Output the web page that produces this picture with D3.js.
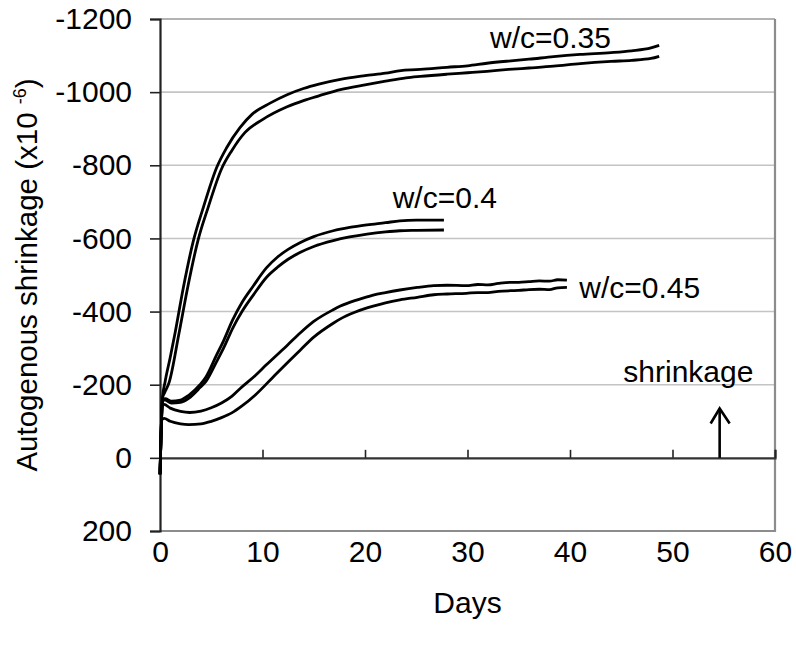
<!DOCTYPE html>
<html><head><meta charset="utf-8">
<script src="https://cdn.jsdelivr.net/npm/d3@7"></script>
<style>
body{margin:0;background:#fff;}
text{font-family:"Liberation Sans",Arial,sans-serif;fill:#000;}
</style></head>
<body><svg id="c" width="796" height="645"></svg>
<script>
// ---- data (days, strain x10^-6; negative = shrinkage) ----
const xTicks = [0,10,20,30,40,50,60];
const yTicks = [-1200,-1000,-800,-600,-400,-200,0,200];
const yTickLabels = ["-1200","-1000","-800","-600","-400","-200","0","200"];

const wc035a = [[0,45],[0.1,-60],[0.25,-165],[0.49,-207],[1.0,-275],[1.46,-340],[2.28,-466],[3.26,-594],[4.23,-685],[5.53,-794],[6.5,-848],[7.8,-903],[9.0,-940],[10.74,-970],[12.4,-993],[14,-1010],[15.5,-1022],[17.6,-1035],[20,-1045],[22,-1052],[23.5,-1059],[24.5,-1061],[25.4,-1062],[28,-1068],[30,-1072],[31.9,-1079],[34,-1085],[36,-1090],[38.4,-1097],[41,-1103],[44,-1108],[46,-1113],[47.9,-1121],[48.7,-1128]];
const wc035b = [[0,45],[0.1,-60],[0.25,-165],[0.45,-178],[0.9,-207],[1.85,-340],[2.7,-466],[3.7,-594],[4.7,-685],[6.0,-790],[7.0,-840],[8.3,-890],[10,-925],[12.4,-960],[14,-977],[15.5,-990],[17.6,-1007],[20,-1020],[22,-1030],[24,-1039],[25.4,-1043],[28,-1049],[30,-1053],[31.9,-1057],[34,-1062],[36,-1066],[38.4,-1071],[41,-1078],[44,-1084],[46,-1087],[47.9,-1092],[48.7,-1098]];
const wc040a = [[0,45],[0.1,-60],[0.25,-160],[0.5,-162],[1.1,-155],[2,-158],[2.8,-171],[3.9,-200],[4.5,-222],[5.5,-280],[6.2,-320],[7.1,-378],[8.0,-425],[9.1,-470],[10.4,-520],[11.5,-550],[12.5,-570],[13.7,-589],[15,-605],[16.9,-621],[18.5,-630],[20.2,-637],[22,-643],[23.4,-648],[25,-650],[27.7,-650]];
const wc040b = [[0,45],[0.1,-60],[0.25,-158],[0.5,-158],[1.1,-150],[2,-152],[2.8,-163],[3.9,-192],[4.5,-210],[5.5,-262],[6.2,-300],[7.1,-355],[8.0,-400],[9.1,-445],[10.4,-494],[11.5,-522],[12.5,-543],[13.7,-562],[15,-578],[16.9,-594],[18.5,-604],[20.2,-612],[22,-618],[23.4,-621],[25,-622],[27.7,-623]];
const wc045a = [[0,45],[0.1,-60],[0.2,-140],[0.4,-146],[1,-136],[2,-127],[2.9,-124],[4,-128],[5,-137],[6,-150],[7,-168],[7.8,-189],[9.3,-225],[10.4,-255],[12.5,-310],[13.7,-342],[15,-373],[16.9,-405],[17.6,-415],[19,-430],[20.2,-440],[20.8,-445],[22,-452],[23.4,-459],[25.1,-466],[26.7,-471],[28,-472],[29.9,-471],[31,-474],[32,-473],[33,-477],[34.2,-480],[35,-480],[36,-482],[37,-484],[38,-483],[38.8,-487],[39.7,-486]];
const wc045b = [[0,45],[0.1,-60],[0.2,-105],[0.4,-108],[1,-100],[2,-93],[2.8,-91],[4,-93],[5,-100],[6,-110],[7,-123],[8,-142],[9.3,-172],[11,-220],[12.5,-262],[13.7,-295],[15,-330],[16.9,-368],[17.6,-380],[19,-398],[20.2,-410],[20.8,-415],[22,-424],[23.4,-432],[25.1,-439],[26.7,-446],[28,-448],[29.9,-450],[31,-452],[32,-452],[33,-455],[34.2,-457],[35,-458],[36,-460],[37,-461],[38,-460],[38.8,-465],[39.7,-466]];
const seriesList = [wc035a,wc035b,wc040a,wc040b,wc045a,wc045b];

const labels = [
  {text:"w/c=0.35", d:32.2, v:-1122},
  {text:"w/c=0.4",  d:22.7, v:-682},
  {text:"w/c=0.45", d:40.9, v:-437},
  {text:"shrinkage", d:45.2, v:-208}
];
const arrowDay = 54.6, arrowFrom = 0, arrowTo = -135;

// ---- chart ----
const svg = d3.select("#c");
const L=160, R=775, T=19, B=531;
const x = d3.scaleLinear().domain([0,60]).range([L,R]);
const y = d3.scaleLinear().domain([-1200,200]).range([T,B]);

// gridlines
svg.append("g").selectAll("line").data(yTicks.filter(v=>v<0)).join("line")
  .attr("x1",L).attr("x2",R).attr("y1",d=>y(d)).attr("y2",d=>y(d))
  .attr("stroke",d=>d===-1200?"#9a9a9a":"#c4c4c4").attr("stroke-width",1.6);

// plot border right & bottom
svg.append("path").attr("d",`M${R},${T}V${B}H${L}`).attr("fill","none")
  .attr("stroke","#8c8c8c").attr("stroke-width",2.2);

// y axis
const yAxis = d3.axisLeft(y).tickValues(yTicks).tickSize(10).tickPadding(18)
  .tickFormat((d,i)=>yTickLabels[i]);
const gy = svg.append("g").attr("transform",`translate(${L},0)`).call(yAxis);
gy.select(".domain").attr("stroke","#222").attr("stroke-width",2.2);
gy.selectAll(".tick line").attr("stroke","#222").attr("stroke-width",1.6);
gy.selectAll("text").style("font-size","30px").attr("fill","#000");

// zero axis with upward ticks
const x0Axis = d3.axisTop(x).tickValues(xTicks).tickSize(8).tickFormat("");
const gx0 = svg.append("g").attr("transform",`translate(0,${y(0)})`).call(x0Axis);
gx0.select(".domain").attr("stroke","#333").attr("stroke-width",2.2);
gx0.selectAll(".tick line").attr("stroke","#222").attr("stroke-width",1.6);

// bottom labels
const xAxis = d3.axisBottom(x).tickValues(xTicks).tickSize(0).tickPadding(10);
const gx = svg.append("g").attr("transform",`translate(0,${B})`).call(xAxis);
gx.select(".domain").remove();
gx.selectAll("text").style("font-size","30px").attr("fill","#000");

// curves
const line = d3.line().x(d=>x(d[0])).y(d=>y(d[1])).curve(d3.curveMonotoneX);
svg.append("g").selectAll("path").data(seriesList).join("path")
  .attr("d",line).attr("fill","none").attr("stroke","#000")
  .attr("stroke-width",2.8).attr("stroke-linejoin","round");

// labels
svg.append("g").selectAll("text").data(labels).join("text")
  .attr("x",d=>x(d.d)).attr("y",d=>y(d.v)).style("font-size","30px").text(d=>d.text);

// arrow
const ax = x(arrowDay);
svg.append("line").attr("x1",ax).attr("x2",ax).attr("y1",y(arrowFrom)).attr("y2",y(arrowTo))
  .attr("stroke","#000").attr("stroke-width",2.6);
svg.append("path").attr("d",`M${ax-9},${y(arrowTo)+15}L${ax},${y(arrowTo)}L${ax+10},${y(arrowTo)+15}`)
  .attr("fill","none").attr("stroke","#000").attr("stroke-width",2.6);

// axis titles
svg.append("text").attr("x",(L+R)/2).attr("y",613).attr("text-anchor","middle")
  .style("font-size","30px").text("Days");
const yt = svg.append("text").attr("transform",`translate(37,${(T+B)/2}) rotate(-90)`)
  .attr("text-anchor","middle").style("font-size","29.5px");
yt.append("tspan").text("Autogenous shrinkage (x10 ");
yt.append("tspan").attr("dy",-11).style("font-size","18px").text("-6");
yt.append("tspan").attr("dy",11).text(")");
</script></body></html>
